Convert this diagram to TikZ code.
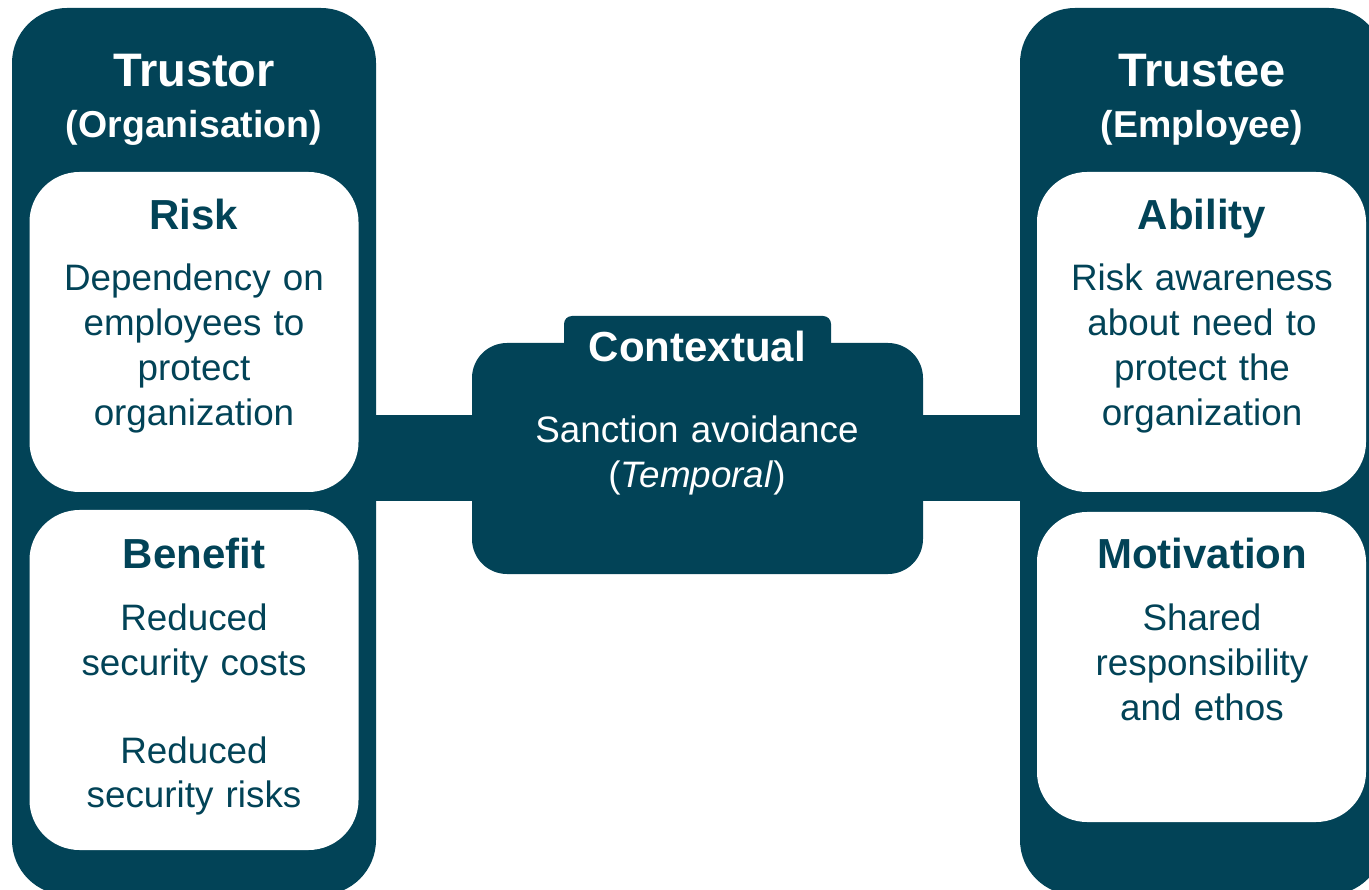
\documentclass[tikz,border=0pt]{standalone}
\usepackage{fontspec}
\setmainfont{Liberation Sans}
\definecolor{dk}{HTML}{024357}
\tikzset{
  darkbox/.style={fill=dk, draw=none, rounded corners=55pt, inner sep=0pt, minimum width=364pt, minimum height=887pt},
  whitebox/.style={fill=white, draw=none, rounded corners=50pt, inner sep=0pt, minimum width=329pt},
  ctxbox/.style={fill=dk, draw=none, rounded corners=35pt, inner sep=0pt, minimum width=451pt, minimum height=231pt},
  tabbox/.style={fill=dk, draw=none, rounded corners=8pt, inner sep=0pt, minimum width=267pt, minimum height=49pt},
  bar/.style={draw=dk, line width=86pt, shorten <=-2pt, shorten >=-2pt},
  bigtitle/.style={anchor=base, inner sep=0pt, text=white, font=\fontsize{47}{56}\selectfont\bfseries},
  subtitle/.style={anchor=base, inner sep=0pt, text=white, font=\fontsize{37.5}{44}\selectfont\bfseries},
  headd/.style={anchor=base, inner sep=0pt, text=dk, font=\fontsize{42}{50}\selectfont\bfseries},
  headw/.style={anchor=base, inner sep=0pt, text=white, font=\fontsize{42}{50}\selectfont\bfseries},
  bodyd/.style={anchor=base, inner sep=0pt, text=dk, font=\fontsize{36.8}{45}\selectfont, align=center, text width=325pt},
  bodyw/.style={anchor=base, inner sep=0pt, text=white, font=\fontsize{36.8}{45}\selectfont, align=center, text width=420pt}
}
\begin{document}
\begin{tikzpicture}[x=1pt,y=-1pt]
\useasboundingbox (0,0) rectangle (1369,890);
\clip (0,0) rectangle (1369,890);
% big columns
\node[darkbox] (trustor) at (194,451.5) {};
\node[darkbox] (trustee) at (1202,451.5) {};
% contextual box
\node[tabbox] (tab) at (697.5,340.5) {};
\node[ctxbox] (ctx) at (697.5,458.5) {};
% connecting bars
\draw[bar] (trustor.east |- ctx.west) -- (ctx.west);
\draw[bar] (ctx.east) -- (trustee.west |- ctx.east);
% white boxes
\node[whitebox, minimum height=320pt] (risk) at (194,332) {};
\node[whitebox, minimum height=340pt] (benefit) at (194,680) {};
\node[whitebox, minimum height=320pt] (ability) at (1201.5,332) {};
\node[whitebox, minimum height=310pt] (motivation) at (1201.5,667) {};
% texts
\node[bigtitle] (t1) at (194,87) {Trustor};
\node[subtitle] (t2) at (194,138) {(Organisation)};
\node[bigtitle] (t3) at (1202,87) {Trustee};
\node[subtitle] (t4) at (1202,138) {(Employee)};
\node[headd] (h1) at (194,230) {Risk};
\node[bodyd] (b1) at (194,291) {Dependency on\\employees to\\protect\\organization};
\node[headd] (h2) at (194,568) {Benefit};
\node[bodyd] (b2) at (194,630) {Reduced\\security costs\\[43pt]Reduced\\security risks};
\node[headd] (h3) at (1202,230) {Ability};
\node[bodyd] (b3) at (1202,291) {Risk awareness\\about need to\\protect the\\organization};
\node[headd] (h4) at (1202,568) {Motivation};
\node[bodyd] (b4) at (1202,630) {Shared\\responsibility\\and ethos};
\node[headw] (h5) at (697.5,362) {Contextual};
\node[bodyw] (b5) at (697,443) {Sanction avoidance\\(\textit{Temporal})};
\end{tikzpicture}
\end{document}
